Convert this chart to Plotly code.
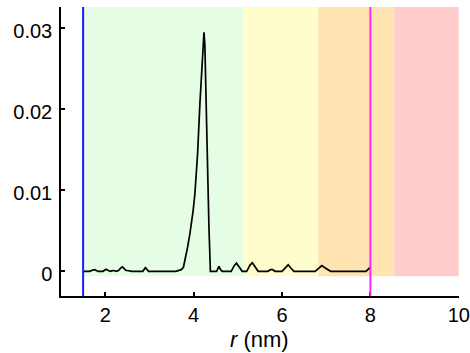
import plotly.graph_objects as go

# curve data
r_nm = [1.5, 1.53, 1.65, 1.72, 1.76, 1.80, 1.84, 1.95, 1.99, 2.02, 2.07, 2.12, 2.16, 2.2, 2.25,
        2.3, 2.35, 2.385, 2.42, 2.47, 2.5, 2.55, 2.6, 2.85, 2.88, 2.91, 2.95, 2.98, 3.6, 3.66,
        3.72, 3.77, 3.80, 3.83, 3.865, 3.917, 3.955, 3.99, 4.03, 4.09, 4.143, 4.18, 4.218, 4.235,
        4.255, 4.272, 4.31, 4.347, 4.37, 4.38, 4.52, 4.55, 4.574, 4.61, 4.65, 4.85, 4.92, 4.97,
        5.02, 5.07, 5.1, 5.2, 5.28, 5.33, 5.38, 5.43, 5.46, 5.68, 5.74, 5.79, 5.84, 6.0, 6.08,
        6.14, 6.2, 6.27, 6.75, 6.83, 6.9, 6.98, 7.06, 7.1, 7.9, 7.95, 8.0]
g_val = [0, 0, 0, 0.00015, 0.0002, 0.0001, 0, 0, 0.0002, 0.00025, 0.0001, 0, 0.00008, 0.0001, 0,
         0.0001, 0.0004, 0.00055, 0.0004, 0.0001, 0.0001, 0.00005, 0, 0, 0.0003, 0.00045, 0.0002, 0, 0, 0.0001,
         0.0002, 0.0005, 0.0012, 0.0022, 0.003, 0.00465, 0.0059, 0.0075, 0.0096, 0.0145, 0.0207, 0.0248, 0.0292, 0.0295,
         0.028, 0.0248, 0.0145, 0.0055, 0.0002, 0, 0, 0.0004, 0.0006, 0.0002, 0, 0, 0.0007, 0.001,
         0.0006, 0.0001, 0, 0, 0.0008, 0.00105, 0.0006, 0.0001, 0, 0, 0.0002, 0.0002, 0, 0, 0.0005,
         0.0008, 0.0004, 0, 0, 0.0004, 0.0007, 0.0004, 0.0001, 0, 0, 0.0002, 0.0005]

# shaded regions
region_start = [1.5, 5.13, 6.82, 8.54]
region_end = [5.13, 6.82, 8.54, 10.0]
region_color = ["#e4fde4", "#fffdcc", "#ffe4b2", "#ffcccc"]
region_bottom = -0.0006

# vertical marker lines
line_pos = [1.5, 8.0]
line_color = ["#1a1aff", "#ff22ff"]

x_ticks = [2, 4, 6, 8, 10]
x_ticklabels = ["2", "4", "6", "8", "10"]
y_ticks = [0, 0.01, 0.02, 0.03]
y_ticklabels = ["0", "0.01", "0.02", "0.03"]

x_range = [1.0, 10.005]
y_range = [-0.00305, 0.03263]

shapes = []
for x0, x1, c in zip(region_start, region_end, region_color):
    shapes.append(dict(type="rect", xref="x", yref="y", x0=x0, x1=x1,
                       y0=region_bottom, y1=y_range[1], fillcolor=c,
                       line=dict(width=0), layer="below"))
for xp, c in zip(line_pos, line_color):
    shapes.append(dict(type="line", xref="x", yref="paper", x0=xp, x1=xp,
                       y0=0, y1=1, line=dict(color=c, width=2), layer="above"))

fig = go.Figure()
fig.add_trace(go.Scatter(x=r_nm, y=g_val, mode="lines",
                         line=dict(color="black", width=1.7), showlegend=False))

font = dict(family="Liberation Sans, Arial, sans-serif", size=20, color="black")
title_font = dict(family="Liberation Sans, Arial, sans-serif", size=22, color="black")
fig.update_layout(
    width=470, height=353,
    margin=dict(l=61, r=11, t=7, b=57, autoexpand=False),
    paper_bgcolor="white", plot_bgcolor="white",
    shapes=shapes, font=font,
    annotations=[dict(text="<i>r</i> (nm)", xref="paper", yref="paper", x=0.5, y=0,
                      xanchor="center", yanchor="middle", xshift=-1, yshift=-43,
                      showarrow=False, font=title_font)],
)
fig.update_xaxes(range=x_range, tickvals=x_ticks, ticktext=x_ticklabels, ticks="inside",
                 ticklen=4, tickwidth=1.5, automargin=False,
                 tickcolor="black", showline=True, linecolor="black", linewidth=1.5,
                 showgrid=False, zeroline=False, mirror=False)
fig.update_yaxes(range=y_range, tickvals=y_ticks, ticktext=y_ticklabels, ticks="inside",
                 ticklen=4, tickwidth=1.5, tickcolor="black", showline=True, automargin=False,
                 ticklabelstandoff=3, ticklabelshift=3,
                 linecolor="black", linewidth=1.5, showgrid=False, zeroline=False, mirror=False)

fig.write_html("out.html", config={"displayModeBar": False},
               post_script="document.body.style.margin='0';document.body.style.overflow='hidden';")
